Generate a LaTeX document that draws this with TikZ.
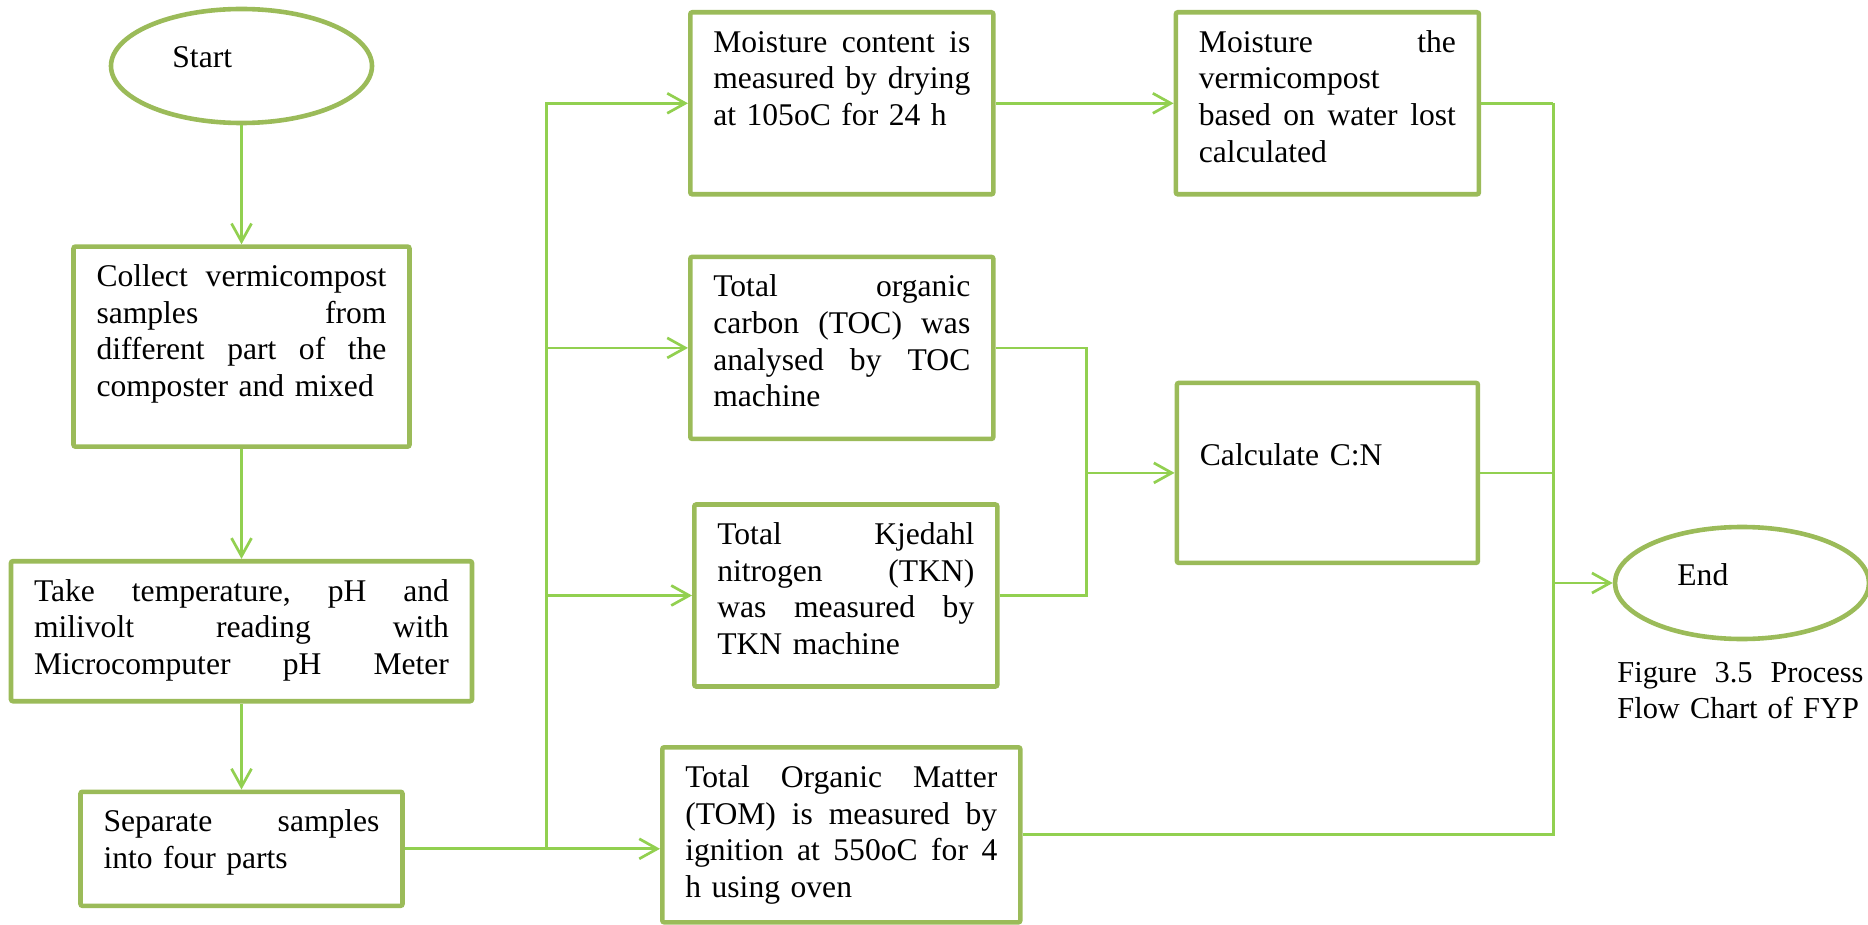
\documentclass[tikz,border=0pt]{standalone}
\usepackage{fontspec}
\setmainfont{Liberation Serif}
\usepackage{tikz}
\usetikzlibrary{shapes.geometric,arrows.meta,positioning}
\definecolor{boxgreen}{HTML}{9BBB59}
\definecolor{linegreen}{HTML}{92D050}

\begin{document}
\begin{tikzpicture}[x=0.5pt, y=-0.5pt,
    font=\fontsize{15.8}{18.35}\selectfont,
    block/.style={rectangle, draw=boxgreen, line width=2.3pt, rounded corners=1pt, inner xsep=11.5pt, inner ysep=0pt, text height=20pt, align=left},
    term/.style={ellipse, draw=boxgreen, line width=2.3pt, inner sep=0pt},
    line/.style={draw=linegreen, line width=1.35pt},
    arrow/.style={line, -{Straight Barb[length=9pt, width=10pt]}}]

    \useasboundingbox (0,0) rectangle (1868,925);

    % left column
    \node[term, minimum width=130.5pt, minimum height=57pt] (start) at (241.5,66) {};
    \node[anchor=base west, inner sep=0pt] (starttext) at (172,68) {Start};
    \node[block, text width=145pt, text depth=80pt, below=59.5pt of start] (collect) {Collect\hfill vermicompost\\ samples\hfill from\\ different\hfill part\hfill of\hfill the\\ composter and mixed};
    \node[block, text width=207.5pt, text depth=50pt, below=55pt of collect] (take) {Take\hfill temperature,\hfill pH\hfill and\\ milivolt\hfill reading\hfill with\\ Microcomputer\hfill pH\hfill Meter};
    \node[block, text width=138pt, text depth=37pt, below=43pt of take] (sep) {Separate\hfill samples\\ into four parts};

    % middle column
    \node[block, text width=128.5pt, text depth=71pt, anchor=north west] (moist) at (688,10) {Moisture\hfill content\hfill is\\ measured\hfill by\hfill drying\\ at 105oC for 24 h};
    \node[block, text width=128.5pt, text depth=71pt, below=29pt of moist] (toc) {Total\hfill organic\\ carbon\hfill (TOC)\hfill was\\ analysed\hfill by\hfill TOC\\ machine};
    \node[block, text width=128.5pt, text depth=71pt, below=30.5pt of toc, xshift=2pt] (tkn) {Total\hfill Kjedahl\\ nitrogen\hfill (TKN)\\ was\hfill measured\hfill by\\ TKN machine};
    \node[block, text width=156pt, text depth=67.5pt, anchor=north west] (tom) at (660,745) {Total\hfill Organic\hfill Matter\\ (TOM)\hfill is\hfill measured\hfill by\\ ignition\hfill at\hfill 550oC\hfill for\hfill 4\\ h using oven};

    % right column
    \node[block, text width=128.5pt, text depth=71pt, right=89pt of moist] (mcalc) {Moisture\hfill the\\ vermicompost\\ based\hfill on\hfill water\hfill lost\\ calculated};
    \node[block, text width=127.5pt, text height=41.5pt, text depth=48.5pt, below=92pt of mcalc] (calc) {Calculate C:N};
    \node[term, minimum width=127pt, minimum height=56pt] (finish) at (1742,583) {};
    \node[anchor=base west, inner sep=0pt] (finishtext) at (1677,585) {End};
    \node[anchor=base west, inner sep=0pt, text width=123pt, align=left, font=\fontsize{15.2}{18.2}\selectfont] (caption) at (1617,682) {Figure\hfill 3.5\hfill Process\\ \mbox{Flow Chart of FYP}};

    % connectors
    \draw[arrow] (start) -- (collect);
    \draw[arrow] (collect) -- (take);
    \draw[arrow] (take) -- (sep);
    \coordinate[right=71pt of sep.east] (fork);
    \draw[arrow] (sep.east) -- (sep.east -| tom.west);
    \draw[arrow] (fork) |- (moist.west);
    \draw[arrow] (fork) |- (toc.west);
    \draw[arrow] (fork) |- (tkn.west);
    \draw[arrow] (moist) -- (mcalc);
    \coordinate[left=44pt of calc.west] (join);
    \draw[line] (toc.east) -| (join);
    \draw[line] (tkn.east) -| (join);
    \draw[arrow] (join) -- (calc);
    \coordinate[right=36pt of mcalc.east] (merge);
    \draw[line] (mcalc.east) -- (merge);
    \draw[line] (tom.east) -| (merge);
    \draw[line] (calc.east) -- (calc.east -| merge);
    \draw[arrow] (finish.west -| merge) -- (finish);

\end{tikzpicture}
\end{document}
